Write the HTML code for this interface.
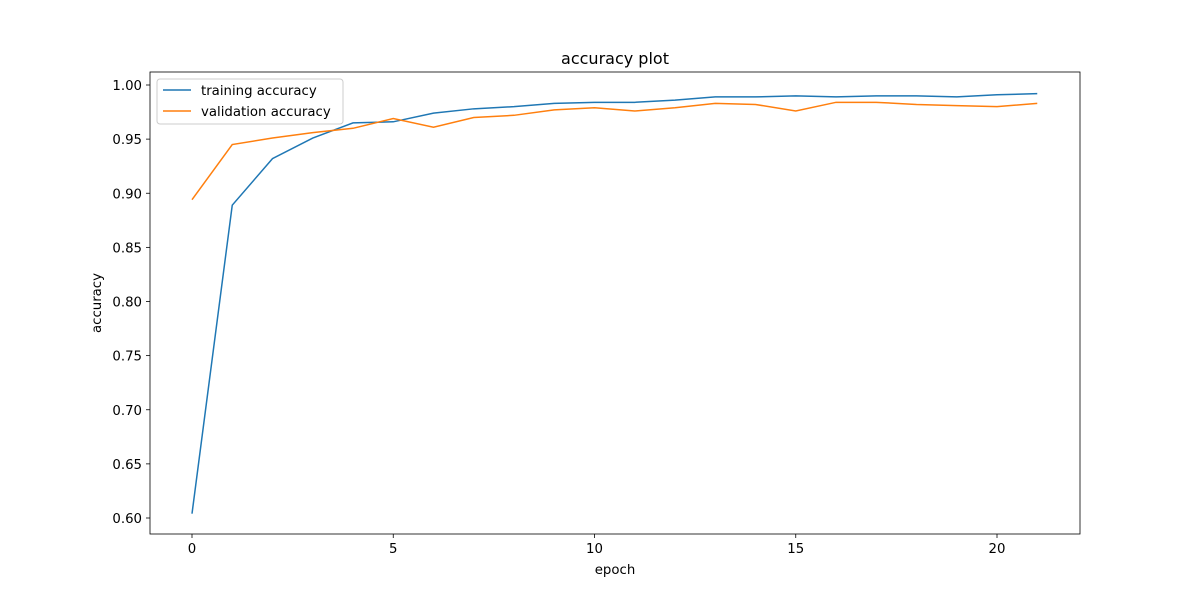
<!DOCTYPE html>
<html><head><meta charset="utf-8"><style>
body{margin:0;background:#fff;}
svg text{font-family:"DejaVu Sans","Liberation Sans",sans-serif;font-size:13.3px;fill:#000;}
</style></head><body>
<svg id="chart" width="1200" height="600" xmlns="http://www.w3.org/2000/svg">
<rect width="1200" height="600" fill="#fff"/>
</svg>
<script>
const epochs = [0,1,2,3,4,5,6,7,8,9,10,11,12,13,14,15,16,17,18,19,20,21];
const trainAcc = [0.604,0.889,0.932,0.951,0.965,0.966,0.974,0.978,0.980,0.983,0.984,0.984,0.986,0.989,0.989,0.990,0.989,0.990,0.990,0.989,0.991,0.992];
const valAcc = [0.894,0.945,0.951,0.956,0.960,0.969,0.961,0.970,0.972,0.977,0.979,0.976,0.979,0.983,0.982,0.976,0.984,0.984,0.982,0.981,0.980,0.983];
const xTicks = [0,5,10,15,20];
const yTicks = [0.60,0.65,0.70,0.75,0.80,0.85,0.90,0.95,1.00];

const L=150,R=1080,T=72,B=534;
const x = v => 192 + v*40.25;
const y = v => 518 - (v-0.60)*(433/0.40);
const svg = document.getElementById('chart');
const NS='http://www.w3.org/2000/svg';
function mk(tag, attrs, parent){const e=document.createElementNS(NS,tag);for(const k in attrs)e.setAttribute(k,attrs[k]);(parent||svg).appendChild(e);return e;}

xTicks.forEach(t=>{
  const g=mk('g',{});
  
  
  mk('line',{x1:x(t),x2:x(t),y1:B,y2:B+4,stroke:'#000','stroke-width':0.8},g);
  const tx=mk('text',{x:x(t),y:B+19,'text-anchor':'middle'},g);tx.textContent=t;
});
yTicks.forEach(t=>{
  const g=mk('g',{});
  
  
  mk('line',{x1:L-4,x2:L,y1:y(t),y2:y(t),stroke:'#000','stroke-width':0.8},g);
  const tx=mk('text',{x:L-8,y:y(t)+5,'text-anchor':'end'},g);tx.textContent=t.toFixed(2);
});

function series(data,color,name){
  const p=mk('polyline',{points:data.map((v,i)=>x(epochs[i])+','+y(v)).join(' '),fill:'none',stroke:color,'stroke-width':1.5});
  
  
}
series(trainAcc,'#1f77b4','training-accuracy-line');
series(valAcc,'#ff7f0e','validation-accuracy-line');

const frame=mk('rect',{x:L,y:T,width:R-L,height:B-T,fill:'none',stroke:'#000','stroke-width':0.8});



const title=mk('text',{x:615,y:64,'text-anchor':'middle',style:'font-size:16px'});title.textContent='accuracy plot';


const xl=mk('text',{x:615,y:574,'text-anchor':'middle'});xl.textContent='epoch';


const yl=mk('text',{x:101,y:303,'text-anchor':'middle',transform:'rotate(-90 101 303)'});yl.textContent='accuracy';



const lg=mk('g',{});


mk('rect',{x:157,y:79,width:186,height:45,rx:3,fill:'#fff',stroke:'#ccc','stroke-width':1},lg);
[['training accuracy','#1f77b4',90],['validation accuracy','#ff7f0e',111]].forEach(([n,c,yy])=>{
  const e=mk('g',{},lg);
  
  
  mk('line',{x1:163,x2:191,y1:yy,y2:yy,stroke:c,'stroke-width':1.5},e);
  const t=mk('text',{x:201,y:yy+5},e);t.textContent=n;
});
</script>
</body></html>
